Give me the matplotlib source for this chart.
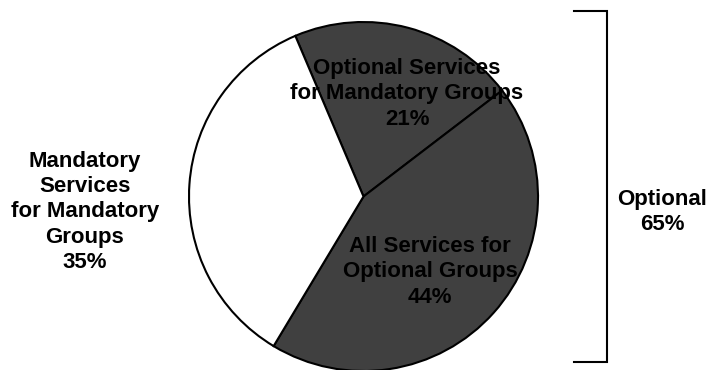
import matplotlib
matplotlib.use("Agg")
import matplotlib.pyplot as plt

categories = ["Optional Services\nfor Mandatory Groups",
              "All Services for\nOptional Groups",
              "Mandatory\nServices\nfor Mandatory\nGroups"]
values = [21, 44, 35]
colors = ["#404040", "#404040", "#ffffff"]
bracket_label = "Optional"

W, H = 719, 370
fig = plt.figure(figsize=(W / 100, H / 100), dpi=100)
plt.rcParams['font.family'] = ['Liberation Sans', 'DejaVu Sans']

cx, cy, r = 363.5, 196.5, 174.5
ax = fig.add_axes([(cx - r) / W, (H - cy - r) / H, 2 * r / W, 2 * r / H])
ax.pie(values, colors=colors, startangle=113, counterclock=False,
       wedgeprops=dict(edgecolor="black", linewidth=1.5))
ax.set_xlim(-1.0, 1.0)
ax.set_ylim(-1.0, 1.0)
ax.set_aspect("auto")
ax.axis("off")

ov = fig.add_axes([0, 0, 1, 1], zorder=5)
ov.set_xlim(0, W)
ov.set_ylim(H, 0)
ov.axis("off")
ov.patch.set_alpha(0)

fs = 16
kw = dict(ha="center", va="center", fontsize=fs, fontweight="bold",
          color="black", linespacing=1.27)
ov.text(407, 94, f"{categories[0]}\n{values[0]}%", **kw)
ov.text(430, 272, f"{categories[1]}\n{values[1]}%", **kw)
ov.text(85, 212, f"{categories[2]}\n{values[2]}%", **kw)

ov.plot([574, 607, 607, 574], [11, 11, 362, 362], color="black", lw=1.5,
        solid_joinstyle="miter")
ov.text(662, 212, f"{bracket_label}\n{values[0] + values[1]}%", **kw)

fig.savefig("out.png", dpi=100)
